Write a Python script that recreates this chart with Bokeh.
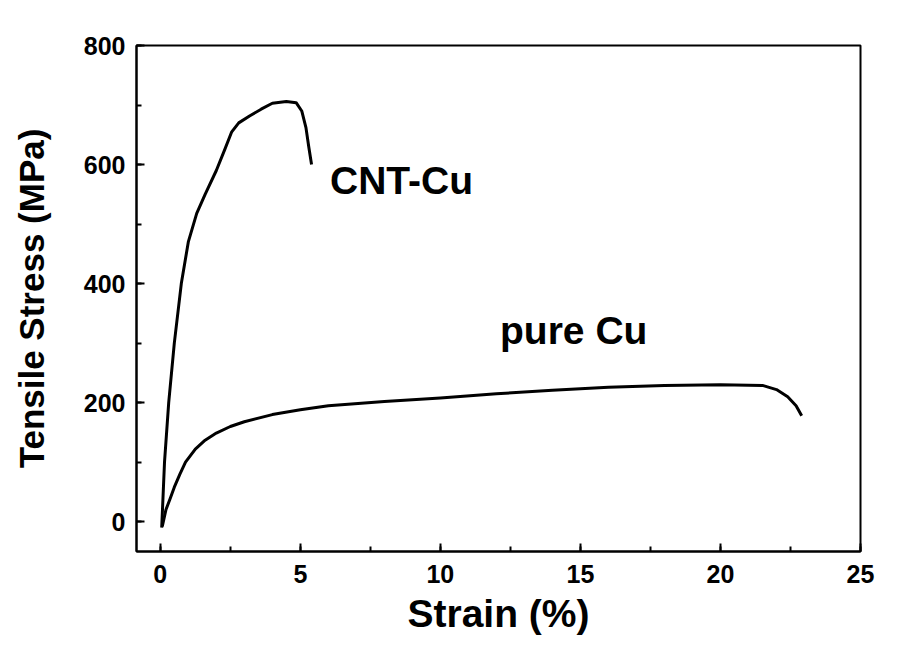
from bokeh.plotting import figure
from bokeh.models import SingleIntervalTicker, Range1d
from bokeh.embed import file_html
from bokeh.resources import INLINE
from bokeh.core.properties import value

# CNT-Cu curve (strain %, stress MPa)
cnt_strain = [0.05, 0.15, 0.3, 0.5, 0.75, 1.0, 1.3, 1.6, 2.0, 2.3, 2.55, 2.8, 3.2, 3.6, 4.0, 4.5, 4.85, 5.05, 5.2, 5.3, 5.4]
cnt_stress = [-10, 100, 200, 300, 400, 470, 518, 550, 590, 625, 655, 670, 682, 693, 703, 706, 704, 690, 662, 630, 600]

# pure Cu curve
cu_strain = [0.07, 0.2, 0.36, 0.5, 0.7, 0.9, 1.25, 1.6, 2.0, 2.5, 3.0, 4.0, 5.0, 6.0, 8.0, 10.0, 12.0, 14.0, 16.0, 18.0, 20.0, 21.5, 22.0, 22.4, 22.7, 22.9]
cu_stress = [-8, 20, 40, 58, 80, 100, 122, 137, 149, 160, 168, 180, 188, 195, 202, 208, 215, 221, 226, 229, 230, 229, 222, 210, 195, 178]

labels = ["CNT-Cu", "pure Cu"]
label_x = [6.06, 12.13]
label_y = [573, 321]

FONT = "Liberation Sans"

p = figure(width=892, height=638, output_backend="svg", toolbar_location=None,
           x_range=Range1d(-0.85, 25), y_range=Range1d(-50, 800))
p.min_border_left = 136
p.min_border_right = 32
p.min_border_top = 45
p.min_border_bottom = 87
p.grid.visible = False
p.outline_line_color = "black"
p.outline_line_width = 2

p.line(cnt_strain, cnt_stress, line_color="black", line_width=3, line_join="round")
p.line(cu_strain, cu_stress, line_color="black", line_width=3, line_join="round")

p.text(x=label_x, y=label_y, text=labels, text_font=value(FONT), text_font_style="bold",
       text_font_size="39px", text_color="black", text_baseline="alphabetic", text_align="left")

p.xaxis.ticker = SingleIntervalTicker(interval=5, num_minor_ticks=2)
p.yaxis.ticker = SingleIntervalTicker(interval=200, num_minor_ticks=2)

for ax in (p.xaxis[0], p.yaxis[0]):
    ax.axis_line_width = 2
    ax.major_tick_in = 8
    ax.major_tick_out = 0
    ax.minor_tick_in = 5
    ax.minor_tick_out = 0
    ax.major_tick_line_width = 2
    ax.minor_tick_line_width = 2
    ax.major_label_text_font = FONT
    ax.major_label_text_font_style = "bold"
    ax.major_label_text_font_size = "25px"
    ax.major_label_text_color = "black"
    ax.axis_label_text_font = FONT
    ax.axis_label_text_font_style = "bold"
    ax.axis_label_text_color = "black"

p.xaxis.axis_label = "Strain (%)"
p.yaxis.axis_label = "Tensile Stress (MPa)"
p.xaxis.axis_label_text_font_size = "39px"
p.yaxis.axis_label_text_font_size = "35px"
p.xaxis.major_label_standoff = 13
p.yaxis.major_label_standoff = 11
p.xaxis.axis_label_standoff = 6
p.yaxis.axis_label_standoff = 30

open("out.html", "w").write(file_html(p, INLINE))
